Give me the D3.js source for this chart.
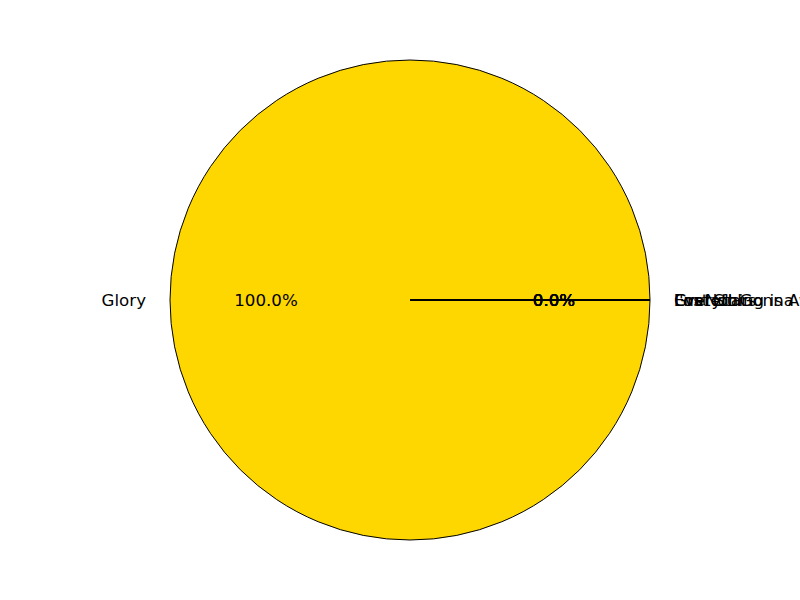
<!DOCTYPE html>
<html>
<head>
<meta charset="utf-8">
<script src="https://cdn.jsdelivr.net/npm/d3@7"></script>
<style>
  html, body { margin: 0; padding: 0; background: #fff; }
  svg { display: block; }
  text { font-family: "DejaVu Sans", sans-serif; font-size: 16.67px; fill: #000; }
</style>
</head>
<body>
<svg id="chart" width="800" height="600"></svg>
<script>
const categories = ["Glory", "Everything is Awesome", "Grateful", "I'm Not Gonna Miss You", "Lost Stars"];
const values = [1, 0, 0, 0, 0];
const colors = ["#FFD700", "#1f77b4", "#ff7f0e", "#2ca02c", "#d62728"];

const width = 800, height = 600;
const cx = 410, cy = 300, radius = 240;

const svg = d3.select("#chart");
const g = svg.append("g").attr("transform", `translate(${cx},${cy})`);

const data = categories.map((c, i) => ({ label: c, value: values[i], color: colors[i] }));
const total = d3.sum(values);

// matplotlib-style: counterclockwise from 3 o'clock (d3 angles: clockwise from 12)
const pie = d3.pie().sort(null).value(d => d.value)
  .startAngle(Math.PI / 2).endAngle(Math.PI / 2 - 2 * Math.PI);
const arcs = pie(data);

const toCanvas = a => a - Math.PI / 2;

arcs.forEach(a => {
  const p = d3.path();
  const s = toCanvas(a.startAngle), e = toCanvas(a.endAngle);
  p.moveTo(0, 0);
  p.lineTo(radius * Math.cos(s), radius * Math.sin(s));
  if (Math.abs(e - s) > 1e-9) p.arc(0, 0, radius, s, e, e < s);
  p.closePath();
  g.append("path")
    .attr("d", p.toString())
    .attr("fill", a.data.color)
    .attr("stroke", "#000")
    .attr("stroke-width", 1)
    .attr("stroke-linejoin", "round");
});

arcs.forEach(a => {
  const mid = (a.startAngle + a.endAngle) / 2;
  const x = Math.sin(mid), y = -Math.cos(mid);
  g.append("text")
    .attr("x", 1.1 * radius * x)
    .attr("y", 1.1 * radius * y)
    .attr("dominant-baseline", "central")
    .attr("text-anchor", x > 1e-6 ? "start" : (x < -1e-6 ? "end" : "middle"))
    .text(a.data.label);
  g.append("text")
    .attr("x", 0.6 * radius * x)
    .attr("y", 0.6 * radius * y)
    .attr("dominant-baseline", "central")
    .attr("text-anchor", "middle")
    .text((a.data.value / total * 100).toFixed(1) + "%");
});
</script>
</body>
</html>
